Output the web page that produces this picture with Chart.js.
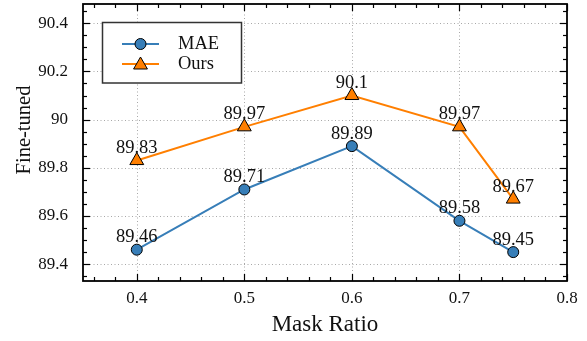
<!DOCTYPE html>
<html>
<head>
<meta charset="utf-8">
<script src="https://cdn.jsdelivr.net/npm/chart.js@4/dist/chart.umd.min.js"></script>
<style>
html,body{margin:0;padding:0;background:#fff;}
#c{display:block;}
</style>
</head>
<body>
<canvas id="c" width="587" height="341"></canvas>
<script>
// ---- data ----
const maskRatios = [0.4, 0.5, 0.6, 0.7, 0.75];
const maeValues  = [89.46, 89.71, 89.89, 89.58, 89.45];
const oursValues = [89.83, 89.97, 90.1, 89.97, 89.67];
const xTicks = [0.4, 0.5, 0.6, 0.7, 0.8];
const yTicks = [89.4, 89.6, 89.8, 90, 90.2, 90.4];
const seriesNames = ['MAE', 'Ours'];
const xTitle = 'Mask Ratio';
const yTitle = 'Fine-tuned';

const FONT = "'Liberation Serif', 'Times New Roman', serif";
const BLUE = '#377eb8';
const ORANGE = '#ff7f00';

function drawMarker(ctx, style, x, y, r, fill) {
  ctx.save();
  ctx.fillStyle = fill;
  ctx.strokeStyle = '#000';
  ctx.lineWidth = 1;
  ctx.setLineDash([]);
  ctx.beginPath();
  if (style === 'circle') {
    ctx.arc(x, y, r, 0, Math.PI * 2);
  } else {
    ctx.moveTo(x, y - r);
    ctx.lineTo(x - r * 0.866, y + r * 0.5);
    ctx.lineTo(x + r * 0.866, y + r * 0.5);
    ctx.closePath();
  }
  ctx.fill();
  ctx.stroke();
  ctx.restore();
}

const framePlugin = {
  id: 'frame',
  beforeDatasetsDraw(chart) {
    const {ctx, chartArea: a, scales: {x, y}} = chart;
    ctx.save();
    // dotted grid
    ctx.strokeStyle = '#a8a8a8';
    ctx.lineWidth = 1;
    ctx.setLineDash([1, 2.5]);
    xTicks.forEach(v => {
      const px = Math.round(x.getPixelForValue(v)) + 0.5;
      if (px > a.right - 2) return;
      ctx.beginPath(); ctx.moveTo(px, a.top); ctx.lineTo(px, a.bottom); ctx.stroke();
    });
    yTicks.forEach(v => {
      const py = Math.round(y.getPixelForValue(v)) + 0.5;
      ctx.beginPath(); ctx.moveTo(a.left, py); ctx.lineTo(a.right, py); ctx.stroke();
    });
    ctx.setLineDash([]);
    // ticks (inward, all sides)
    ctx.strokeStyle = '#000';
    ctx.lineWidth = 1.2;
    const tick = (x1, y1, x2, y2) => { ctx.beginPath(); ctx.moveTo(x1, y1); ctx.lineTo(x2, y2); ctx.stroke(); };
    for (let i = 18; i <= 40; i++) {
      const v = i / 50;
      const px = Math.round(x.getPixelForValue(v)) + 0.5;
      const major = (i % 5 === 0);
      const L = major ? 7 : 4;
      tick(px, a.bottom, px, a.bottom - L);
      tick(px, a.top, px, a.top + L);
    }
    for (let i = 0; i <= 22; i++) {
      const v = 89.35 + i * 0.05;
      if (v > y.max) break;
      const py = Math.round(y.getPixelForValue(v)) + 0.5;
      const major = (i % 4 === 1);
      const L = major ? 7 : 4;
      tick(a.left, py, a.left + L, py);
      tick(a.right, py, a.right - L, py);
    }
    // frame
    ctx.lineWidth = 1.8;
    ctx.strokeRect(a.left, a.top, a.right - a.left, a.bottom - a.top);
    ctx.restore();
  },
  afterDatasetsDraw(chart) {
    const {ctx} = chart;
    ctx.save();
    ctx.font = '18.5px ' + FONT;
    ctx.fillStyle = '#111';
    ctx.textAlign = 'center';
    ctx.textBaseline = 'alphabetic';
    chart.data.datasets.forEach((ds, di) => {
      const meta = chart.getDatasetMeta(di);
      meta.data.forEach((pt, i) => {
        ctx.fillText(String(ds.data[i].y), pt.x, pt.y - 7.5);
      });
    });
    // axis titles
    const a = chart.chartArea;
    ctx.font = '23px ' + FONT;
    ctx.textBaseline = 'middle';
    ctx.fillText(xTitle, (a.left + a.right) / 2, 325);
    ctx.save();
    ctx.translate(25, 130);
    ctx.rotate(-Math.PI / 2);
    ctx.font = '20.5px ' + FONT;
    ctx.fillText(yTitle, 0, 0);
    ctx.restore();
    // legend
    ctx.fillStyle = '#fff';
    ctx.fillRect(102.5, 22.5, 139, 60.5);
    ctx.strokeStyle = '#333';
    ctx.lineWidth = 1.5;
    ctx.strokeRect(102.5, 22.5, 139, 60.5);
    const rows = [
      {name: seriesNames[0], color: BLUE, style: 'circle', r: 5.5, y: 44},
      {name: seriesNames[1], color: ORANGE, style: 'triangle', r: 8, y: 64}
    ];
    rows.forEach(row => {
      ctx.strokeStyle = row.color;
      ctx.lineWidth = 2;
      ctx.beginPath(); ctx.moveTo(122, row.y); ctx.lineTo(159, row.y); ctx.stroke();
      drawMarker(ctx, row.style, 140.5, row.y + (row.style === 'triangle' ? 1 : 0), row.r, row.color);
      ctx.fillStyle = '#111';
      ctx.font = '18.5px ' + FONT;
      ctx.textAlign = 'left';
      ctx.textBaseline = 'middle';
      ctx.fillText(row.name, 178, row.y);
    });
    ctx.restore();
  }
};

const mk = (vals) => maskRatios.map((r, i) => ({x: r, y: vals[i]}));

new Chart(document.getElementById('c'), {
  type: 'line',
  data: {
    datasets: [
      {
        label: seriesNames[0], data: mk(maeValues),
        borderColor: BLUE, backgroundColor: BLUE, borderWidth: 2,
        pointStyle: 'circle', pointRadius: 5.5, pointBorderColor: '#000', pointBorderWidth: 1,
        pointBackgroundColor: BLUE, tension: 0
      },
      {
        label: seriesNames[1], data: mk(oursValues),
        borderColor: ORANGE, backgroundColor: ORANGE, borderWidth: 2,
        pointStyle: 'triangle', pointRadius: 8, pointBorderColor: '#000', pointBorderWidth: 1,
        pointBackgroundColor: ORANGE, tension: 0
      }
    ]
  },
  options: {
    responsive: false,
    animation: false,
    devicePixelRatio: 1,
    layout: {autoPadding: false, padding: {left: 0, right: 20, top: 4, bottom: 0}},
    plugins: {legend: {display: false}, tooltip: {enabled: false}},
    scales: {
      x: {
        type: 'linear', min: 0.35, max: 0.8,
        grid: {display: false, drawTicks: false},
        border: {display: false},
        afterBuildTicks: (s) => { s.ticks = xTicks.map(v => ({value: v})); },
        afterFit: (s) => { s.height = 60; s.paddingLeft = 0; s.paddingRight = 0; },
        ticks: {
          padding: 7, color: '#111', maxRotation: 0,
          font: {family: FONT, size: 17},
          callback: (v) => String(parseFloat(Number(v).toFixed(2)))
        }
      },
      y: {
        type: 'linear', min: 89.33, max: 90.48,
        grid: {display: false, drawTicks: false},
        border: {display: false},
        afterBuildTicks: (s) => { s.ticks = yTicks.map(v => ({value: v})); },
        afterFit: (s) => { s.width = 83; s.paddingTop = 0; s.paddingBottom = 0; },
        ticks: {
          padding: 15, color: '#111',
          font: {family: FONT, size: 17},
          callback: (v) => String(parseFloat(Number(v).toFixed(2)))
        }
      }
    }
  },
  plugins: [framePlugin]
});
</script>
</body>
</html>
